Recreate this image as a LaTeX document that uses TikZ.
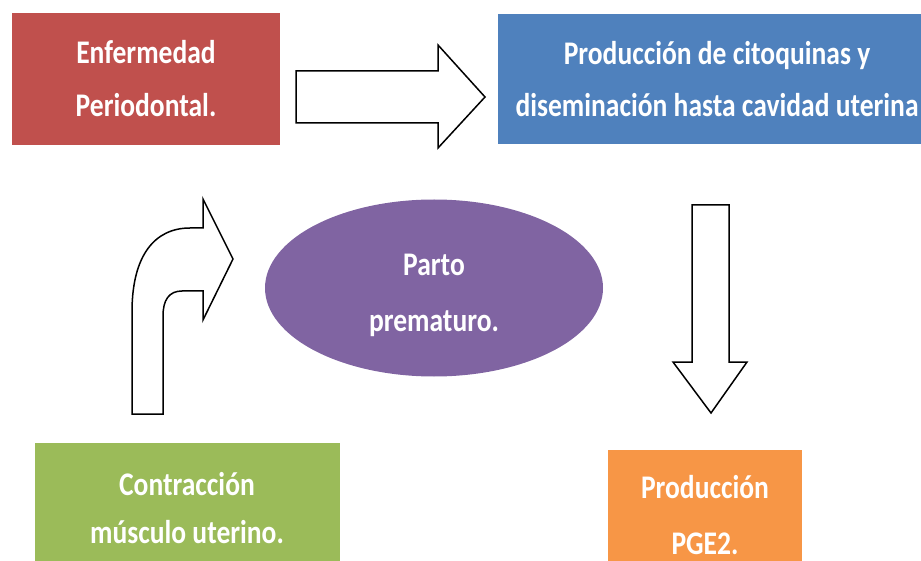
\documentclass[tikz,border=0pt]{standalone}
\usepackage{fontspec}
\setmainfont{Carlito}[FakeStretch=0.835]
\usetikzlibrary{shapes}
\definecolor{perioRed}{HTML}{C0504D}
\definecolor{citoBlue}{HTML}{4F81BD}
\definecolor{partoViolet}{HTML}{8064A2}
\definecolor{contracGreen}{HTML}{9BBB59}
\definecolor{pgeOrange}{HTML}{F79646}
\tikzstyle{boxtext} = [text=white, font=\fontsize{33}{56}\selectfont\bfseries, align=center, inner sep=0pt]
\tikzstyle{redbox} = [boxtext, font=\fontsize{33}{53}\selectfont\bfseries, rectangle, fill=perioRed, minimum width=268pt, minimum height=132pt]
\tikzstyle{bluebox} = [boxtext, font=\fontsize{33}{52}\selectfont\bfseries, rectangle, fill=citoBlue, minimum width=438pt, minimum height=130pt]
\tikzstyle{greenbox} = [boxtext, font=\fontsize{33}{48}\selectfont\bfseries, rectangle, fill=contracGreen, minimum width=305pt, minimum height=130pt]
\tikzstyle{orangebox} = [boxtext, rectangle, fill=pgeOrange, minimum width=194pt, minimum height=130pt]
\tikzstyle{oval} = [ellipse, fill=partoViolet, minimum width=338pt, minimum height=177pt]
\tikzstyle{blockarrow} = [draw=black, line width=1.5pt, fill=white, line join=miter]

\begin{document}
\begin{tikzpicture}[x=1pt, y=-1pt, node distance=200pt]
\useasboundingbox (0,0) rectangle (921,561);

\node [redbox] (perio) at (146,79) {Enfermedad\\Periodontal.};
\node [bluebox, right of=perio, xshift=371pt] (citoq) {Producción de citoquinas y\\diseminación hasta cavidad uterina};
\node [orangebox, below of=citoq, yshift=-236pt, xshift=-12pt] (pge) {Producción\\PGE2.};
\node [greenbox, below of=perio, yshift=-229pt, xshift=41pt] (contrac) {Contracción\\músculo uterino.};
\node [oval] (parto) at (434,288) {};
\node [boxtext] (partotext) at ([yshift=-7pt]parto.center) {Parto\\prematuro.};

% block arrows
\draw [blockarrow] (296,71) -- (438,71) -- (438,45) -- (485,97) -- (438,148) -- (438,123) -- (296,123) -- cycle;
\draw [blockarrow] (692,205) -- (729,205) -- (729,362) -- (747,362) -- (711,413) -- (673,362) -- (692,362) -- cycle;
\draw [blockarrow] (132,414) -- (132,312) .. controls (132,255) and (155,228) .. (190,228) -- (203,228) -- (203,199) -- (233,259) -- (203,320) -- (203,291) -- (182,291) .. controls (169,291) and (163,300) .. (163,316) -- (163,414) -- cycle;

\end{tikzpicture}
\end{document}
